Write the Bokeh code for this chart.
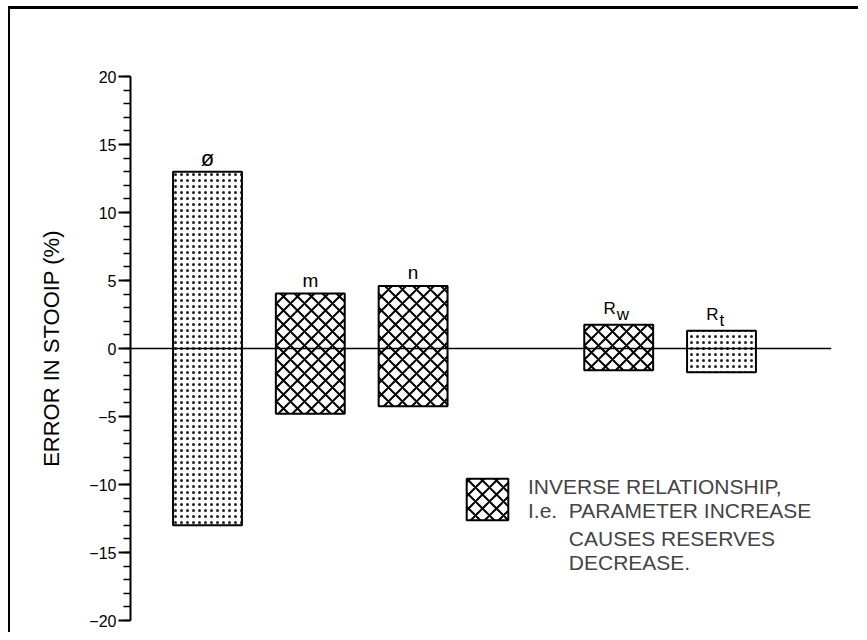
from bokeh.plotting import figure
from bokeh.models import (ColumnDataSource, Range1d, SingleIntervalTicker, Span,
                          Legend, LegendItem)
from bokeh.core.properties import value
from bokeh.embed import file_html
from bokeh.resources import INLINE

# ---- data ----
categories = ["ø", "m", "n", "Rw", "Rt"]
label_main = ["ø", "m", "n", "R", "R"]
label_sub = ["", "", "", "w", "t"]
upper = [13.0, 4.05, 4.6, 1.75, 1.3]
lower = [-13.0, -4.8, -4.25, -1.6, -1.75]
relationship = ["direct", "inverse", "inverse", "inverse", "direct"]
y_ticks_interval = 5
legend_lines_1 = "INVERSE RELATIONSHIP,\nI.e.  PARAMETER INCREASE"
legend_lines_2 = "       CAUSES RESERVES\n       DECREASE."
y_label = "ERROR IN STOOIP (%)"

# ---- layout helpers ----
gap_after = "n"
xs = []
pos = 0
for c in categories:
    xs.append(pos)
    pos += 2 if c == gap_after else 1

FONT = "Liberation Sans"

p = figure(width=850, height=626, output_backend="svg", toolbar_location=None,
           x_range=Range1d(-0.749, 6.070), y_range=Range1d(-20, 20),
           x_axis_location=None, min_border_left=120, min_border_right=29,
           min_border_top=67, min_border_bottom=15)
p.styles = {"border-top": "3px solid black", "border-left": "2px solid black",
            "margin-left": "8px", "margin-top": "6px"}
p.outline_line_color = None
p.grid.visible = False
p.background_fill_color = "white"
p.border_fill_color = "white"

ax = p.yaxis[0]
ax.ticker = SingleIntervalTicker(interval=y_ticks_interval, num_minor_ticks=5)
ax.axis_line_width = 2
ax.major_tick_out = 12
ax.major_tick_in = 0
ax.major_tick_line_width = 2
ax.minor_tick_out = 7
ax.minor_tick_in = 0
ax.minor_tick_line_width = 1.5
ax.major_label_text_font = FONT
ax.major_label_text_font_size = "16px"
ax.major_label_text_color = "black"
ax.major_label_standoff = 2
ax.axis_label = y_label
ax.axis_label_text_font = FONT
ax.axis_label_text_font_size = "22px"
ax.axis_label_text_font_style = "normal"
ax.axis_label_text_color = "black"
ax.axis_label_standoff = 22

# zero line
p.add_layout(Span(location=0, dimension="width", line_color="black", line_width=1.5))

def subset(kind):
    idx = [i for i, r in enumerate(relationship) if r == kind]
    return ColumnDataSource(dict(x=[xs[i] for i in idx],
                                 top=[upper[i] for i in idx],
                                 bottom=[lower[i] for i in idx]))

dots = p.vbar(x="x", top="top", bottom="bottom", width=0.67, source=subset("direct"),
              fill_color="white", line_color="black", line_width=2,
              hatch_pattern=".", hatch_scale=6, hatch_weight=1, hatch_color="#222222")
cross = p.vbar(x="x", top="top", bottom="bottom", width=0.67, source=subset("inverse"),
               fill_color="white", line_color="black", line_width=2,
               hatch_pattern="x", hatch_scale=14, hatch_weight=2, hatch_color="black")
# empty renderer used only to continue the legend text without a swatch
blank = p.vbar(x=[], top=[], bottom=[], width=0.67, fill_alpha=0, line_alpha=0)

# bar labels
plain = [i for i in range(len(categories)) if label_sub[i] == ""]
subd = [i for i in range(len(categories)) if label_sub[i] != ""]
p.text(x=[xs[i] for i in plain], y=[upper[i] for i in plain],
       text=[label_main[i] for i in plain], text_font=value(FONT),
       text_font_size=["22px" if label_main[i] == "ø" else "19px" for i in plain],
       text_align="center", text_baseline="alphabetic",
       y_offset=-13, text_color="black")
p.text(x=[xs[i] for i in subd], y=[upper[i] for i in subd],
       text=[label_main[i] for i in subd], text_font=value(FONT),
       text_font_size="17px", text_align="right", text_baseline="alphabetic",
       x_offset=-3, y_offset=-16, text_color="black")
p.text(x=[xs[i] for i in subd], y=[upper[i] for i in subd],
       text=[label_sub[i] for i in subd], text_font=value(FONT),
       text_font_size="17px", text_align="left", text_baseline="alphabetic",
       x_offset=-2, y_offset=-10, text_color="black")

legend = Legend(items=[LegendItem(label=legend_lines_1, renderers=[cross]),
                       LegendItem(label=legend_lines_2, renderers=[blank])],
                location=(331, 43), glyph_width=52, glyph_height=52,
                label_standoff=15, label_text_font=FONT, label_text_font_size="21px",
                label_text_line_height=1.3, padding=0, margin=0, spacing=0,
                border_line_color=None, background_fill_alpha=0)
p.add_layout(legend)

open("out.html", "w").write(file_html(p, INLINE))
